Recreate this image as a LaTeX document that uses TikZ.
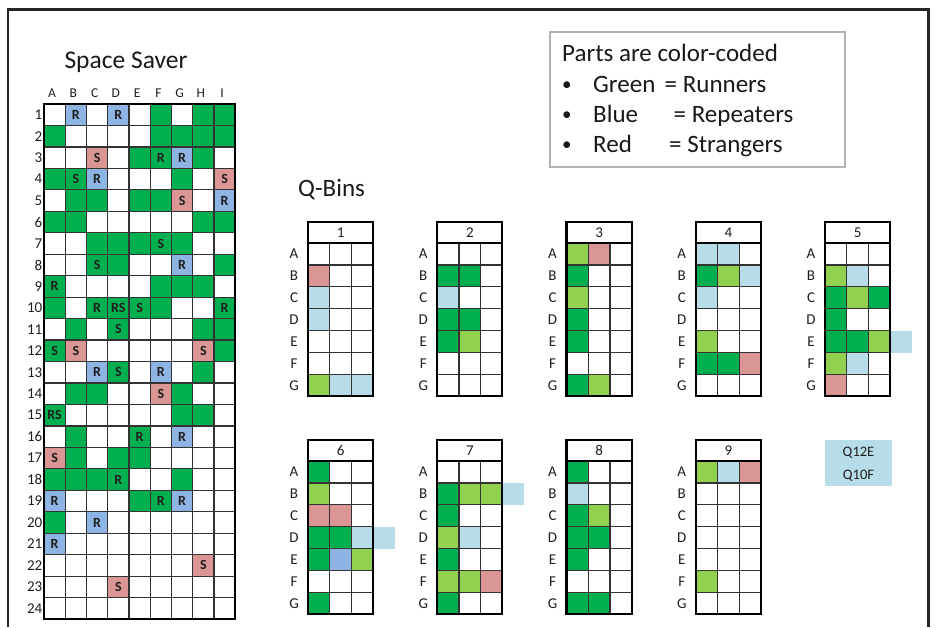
\documentclass[tikz,border=0pt]{standalone}
\usepackage{fontspec}
\setmainfont{Carlito}
\definecolor{dg}{HTML}{00B050}
\definecolor{lg}{HTML}{92D050}
\definecolor{lb}{HTML}{B7DEE8}
\definecolor{pk}{HTML}{DA9694}
\definecolor{mb}{HTML}{8DB4E2}
\definecolor{ink}{HTML}{1E1E1E}
\newcommand{\fs}[1]{\fontsize{#1}{#1}\selectfont}
\newcommand{\sscell}[4]{%
  \fill[#3] ({44+(#1-1)*21.25},{104+(#2-1)*21.46}) rectangle ++(21.25,21.46);
  \node[celltext] (s-#1-#2) at ({44+(#1-0.5)*21.25},{104+(#2-0.5)*21.46}) {#4};}
\newcommand{\qcell}[4]{%
  \pgfmathsetmacro{\qL}{308+mod(#1-1,5)*129.25}%
  \pgfmathsetmacro{\qT}{(#1<6 ? 222 : 440)+21+(#3-1)*21.9}%
  \pgfmathsetmacro{\qX}{\qL+(#2-1)*21.7}%
  \fill[#4] (\qX,\qT) rectangle ++(21.7,21.9);}
\begin{document}
\begin{tikzpicture}[x=1pt,y=-1pt,
  celltext/.style={font=\fs{14}\bfseries, text=ink, inner sep=0pt},
  lbl/.style={font=\fs{14}, text=ink, inner sep=0pt},
  thin grid/.style={draw=black!80, line width=1.2pt},
  thick border/.style={draw=black, line width=2.1pt},
  legtext/.style={font=\fs{25}, text=black!90, anchor=base west, inner sep=0pt}]
\useasboundingbox (0,0) rectangle (936,627);
% frame
\draw[line width=2.6pt, draw=black!85] (8,627) -- (8,9.5) -- (928.5,9.5) -- (928.5,627);

% ---------- Space Saver ----------
\node[anchor=base west, inner sep=0pt, font=\fs{25.5}, text=black!90] (sstitle) at (64.3,68.3) {Space Saver};
\foreach \c/\L in {1/A,2/B,3/C,4/D,5/E,6/F,7/G,8/H,9/I}
  \node[lbl, font=\fs{13.5}, anchor=base] (col\L) at ({44+(\c-0.5)*21.25-2.5},97) {\L};
\foreach \r in {1,...,24}
  \node[lbl, font=\fs{15}, anchor=east] (row\r) at (42.5,{104+(\r-0.5)*21.46}) {\r};

% cells with letters
\foreach \c/\r/\k/\t in {2/1/mb/R,4/1/mb/R,3/3/pk/S,6/3/dg/R,7/3/mb/R,2/4/dg/S,3/4/mb/R,9/4/pk/S,
  7/5/pk/S,9/5/mb/R,6/7/dg/S,3/8/dg/S,7/8/mb/R,1/9/dg/R,3/10/dg/R,4/10/dg/RS,5/10/dg/S,9/10/dg/R,
  4/11/dg/S,1/12/dg/S,2/12/pk/S,8/12/pk/S,3/13/mb/R,4/13/dg/S,6/13/mb/R,6/14/pk/S,1/15/dg/RS,
  5/16/dg/R,7/16/mb/R,1/17/pk/S,4/18/dg/R,1/19/mb/R,6/19/dg/R,7/19/mb/R,3/20/mb/R,1/21/mb/R,
  8/22/pk/S,4/23/pk/S}
  {\sscell{\c}{\r}{\k}{\t}}
% plain green cells
\foreach \c/\r in {6/1,8/1,9/1,1/2,6/2,7/2,8/2,9/2,5/3,8/3,1/4,7/4,2/5,3/5,5/5,6/5,
  1/6,2/6,8/6,9/6,3/7,4/7,5/7,7/7,4/8,9/8,6/9,7/9,8/9,1/10,6/10,2/11,8/11,9/11,9/12,
  8/13,2/14,3/14,7/14,7/15,8/15,2/16,2/17,4/17,5/17,1/18,2/18,3/18,7/18,5/19,1/20}
  {\fill[dg] ({44+(\c-1)*21.25},{104+(\r-1)*21.46}) rectangle ++(21.25,21.46);}
% grid lines
\foreach \i in {1,...,8}
  \draw[thin grid] ({44+\i*21.25},104) -- ({44+\i*21.25},619);
\foreach \j in {1,...,23}
  \draw[thin grid] (44,{104+\j*21.46}) -- (235.25,{104+\j*21.46});
\draw[thick border, line width=1.9pt] (44,104) rectangle (235.25,619);

% ---------- Legend ----------
\draw[draw=black!30, line width=1.2pt] (550,32) rectangle (845,167);
\node[legtext] (leg0) at (562,61) {Parts are color-coded};
\node[legtext, font=\fs{19}] (b1) at (562,90.5) {•};
\node[legtext, font=\fs{19}] (b2) at (562,120.5) {•};
\node[legtext, font=\fs{19}] (b3) at (562,150.5) {•};
\node[legtext] (g1) at (593,92.5) {Green};
\node[legtext] (g2) at (664.5,92.5) {= Runners};
\node[legtext] (h1) at (593,122.5) {Blue};
\node[legtext] (h2) at (673.5,122.5) {= Repeaters};
\node[legtext] (k1) at (593,152.5) {Red};
\node[legtext] (k2) at (669,152.5) {= Strangers};

% ---------- Q-Bins ----------
\node[anchor=base west, inner sep=0pt, font=\fs{25}, text=black!90] (qtitle) at (298,196.5) {Q-Bins};

% fills
\foreach \b/\c/\r/\k in {1/1/2/pk,1/1/3/lb,1/1/4/lb,1/1/7/lg,1/2/7/lb,1/3/7/lb,
  2/1/2/dg,2/2/2/dg,2/1/3/lb,2/1/4/dg,2/2/4/dg,2/1/5/dg,2/2/5/lg,
  3/1/1/lg,3/2/1/pk,3/1/2/dg,3/1/3/lg,3/1/4/dg,3/1/5/dg,3/1/7/dg,3/2/7/lg,
  4/1/1/lb,4/2/1/lb,4/1/2/dg,4/2/2/lg,4/3/2/lb,4/1/3/lb,4/1/5/lg,4/1/6/dg,4/2/6/dg,4/3/6/pk,
  5/1/2/lg,5/2/2/lb,5/1/3/dg,5/2/3/lg,5/3/3/dg,5/1/4/dg,5/1/5/dg,5/2/5/dg,5/3/5/lg,5/4/5/lb,
  5/1/6/lg,5/2/6/lb,5/1/7/pk,
  6/1/1/dg,6/1/2/lg,6/1/3/pk,6/2/3/pk,6/1/4/dg,6/2/4/dg,6/3/4/lb,6/4/4/lb,6/1/5/dg,6/2/5/mb,6/3/5/lg,6/1/7/dg,
  7/1/2/dg,7/2/2/lg,7/3/2/lg,7/4/2/lb,7/1/3/dg,7/1/4/lg,7/2/4/lb,7/1/5/dg,7/1/6/lg,7/2/6/lg,7/3/6/pk,7/1/7/dg,
  8/1/1/dg,8/1/2/lb,8/1/3/dg,8/2/3/lg,8/1/4/dg,8/2/4/dg,8/1/5/dg,8/1/7/dg,8/2/7/dg,
  9/1/1/lg,9/2/1/lb,9/3/1/pk,9/1/6/lg}
  {\qcell{\b}{\c}{\r}{\k}}

% bin frames
\foreach \b in {1,...,9}{
  \pgfmathsetmacro{\qL}{308+mod(\b-1,5)*129.25}
  \pgfmathsetmacro{\qT}{(\b<6 ? 222 : 440)}
  \foreach \i in {1,2}
    \draw[thin grid, line width=1.3pt] ({\qL+\i*21.7},{\qT+21}) -- ({\qL+\i*21.7},{\qT+174.3});
  \foreach \j in {1,...,6}
    \draw[thin grid, line width=1.3pt] (\qL,{\qT+21+\j*21.9}) -- ({\qL+65.1},{\qT+21+\j*21.9});
  \draw[thick border] (\qL,\qT) rectangle ({\qL+65.1},{\qT+21});
  \draw[thick border] (\qL,{\qT+21}) rectangle ({\qL+65.1},{\qT+174.3});
  \node[lbl, font=\fs{15}] (bin\b) at ({\qL+32.55},{\qT+10.8}) {\b};
  \foreach \j/\L in {1/A,2/B,3/C,4/D,5/E,6/F,7/G}
    \node[lbl, font=\fs{15}] (bin\b\L) at ({\qL-14},{\qT+21+(\j-0.5)*21.9}) {\L};
}

% note box
\fill[lb] (825,440) rectangle (892,486);
\node[lbl, font=\fs{14.5}] (q12e) at (858.5,453) {Q12E};
\node[lbl, font=\fs{14.5}] (q10f) at (858.5,475.5) {Q10F};
\end{tikzpicture}
\end{document}
